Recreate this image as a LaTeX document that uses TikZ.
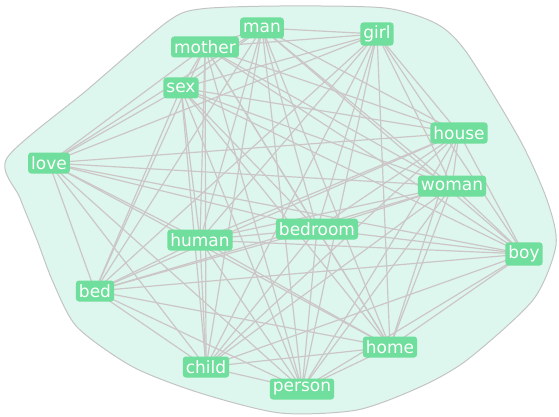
\documentclass[tikz,border=0pt]{standalone}
\usepackage{fontspec}
\newfontfamily\wordfont{DejaVu Sans}
\usetikzlibrary{backgrounds}
\definecolor{hullfill}{RGB}{221,247,238}
\definecolor{hullline}{RGB}{196,196,196}
\definecolor{linkgray}{RGB}{204,198,198}
\definecolor{wordgreen}{RGB}{112,222,156}
\tikzset{
  word/.style={rounded corners=3pt, fill=wordgreen, text=white, inner xsep=3pt,
    minimum height=21pt, font=\wordfont\fontsize{17}{17}\selectfont},
  link/.style={draw=linkgray, line width=1.2pt},
}
\begin{document}
\begin{tikzpicture}[x=1pt, y=-1pt]
	\useasboundingbox (0,0) rectangle (559,417);
	
	% Words
	\node[word] (man) at (262,28) {man};
	\node[word] (mother) at (205,47) {mother};
	\node[word] (girl) at (377,34) {girl};
	\node[word] (sex) at (181,88) {sex};
	\node[word] (house) at (459,133) {house};
	\node[word] (love) at (49,163) {love};
	\node[word] (woman) at (452,186) {woman};
	\node[word] (bedroom) at (317,229) {bedroom};
	\node[word] (human) at (200,240) {human};
	\node[word] (boy) at (524,254) {boy};
	\node[word] (bed) at (95,291) {bed};
	\node[word] (home) at (390,347) {home};
	\node[word] (child) at (206,367) {child};
	\node[word] (person) at (302,389) {person};
	
	\begin{pgfonlayer}{background}
		% Hull
		\draw[hullline, fill=hullfill, line width=1pt] plot[smooth cycle, tension=0.45] coordinates {
			(7,158) (87,90) (167,22) (200,9) (280,6) (385,8) (437,24) (467,53)
			(520,140) (547,200) (556,245) (533,300) (467,360) (420,387)
			(357,410) (280,413) (200,393) (133,367) (77,327) (53,282)
			(37,240) (20,198)};
		
		% Links, every pair of words
		\def\wordlist{man,mother,girl,sex,house,love,woman,bedroom,human,boy,bed,home,child,person}
		\foreach \a [count=\i] in \wordlist {
			\foreach \b [count=\j] in \wordlist {
				\ifnum\j>\i \draw[link] (\a.center) -- (\b.center); \fi
			}
		}
	\end{pgfonlayer}
\end{tikzpicture}
\end{document}
